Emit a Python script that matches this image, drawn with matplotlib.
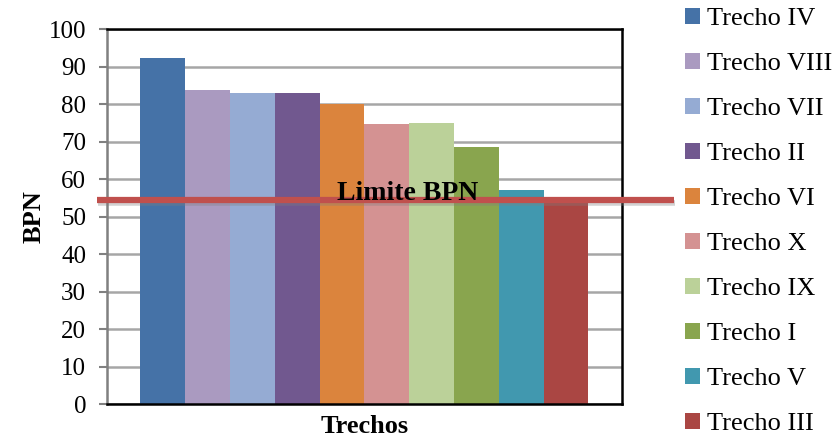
import matplotlib.pyplot as plt
from matplotlib.patches import Patch
import matplotlib.transforms as mtransforms

# data
trechos = ["Trecho IV", "Trecho VIII", "Trecho VII", "Trecho II", "Trecho VI",
           "Trecho X", "Trecho IX", "Trecho I", "Trecho V", "Trecho III"]
bpn = [92.3, 83.7, 82.9, 82.9, 80.0, 74.7, 75.0, 68.5, 57.0, 53.8]
colors = ["#4572A7", "#AA9AC0", "#95ABD3", "#71588F", "#DB843D",
          "#D49292", "#BBD199", "#89A54E", "#4198AF", "#AA4643"]
limite_bpn = 54.3

plt.rcParams["font.family"] = ["Liberation Serif", "DejaVu Serif"]

fig = plt.figure(figsize=(8.35, 4.43), dpi=100)
ax = fig.add_axes([0.128, 0.088, 0.617, 0.8465])

x = list(range(len(bpn)))
ax.bar(x, bpn, width=1.0, color=colors, zorder=2)
ax.set_xlim(-1.25, 10.25)
ax.set_ylim(0, 100)
ax.set_yticks(range(0, 101, 10))
ax.set_xticks([])
ax.grid(axis="y", color="#A6A6A6", linewidth=1.8, zorder=0)
ax.tick_params(axis="y", labelsize=18, length=6, width=1.5, color="#808080", pad=9)

for side in ["top", "right", "bottom"]:
    ax.spines[side].set_color("black")
    ax.spines[side].set_linewidth(1.8)
ax.spines["left"].set_color("#808080")
ax.spines["left"].set_linewidth(1.8)

ax.set_ylabel("BPN", fontsize=19, fontweight="bold", labelpad=2)
ax.set_xlabel("Trechos", fontsize=19, fontweight="bold", labelpad=8)

# limit line, extends beyond the plot area
trans = mtransforms.blended_transform_factory(ax.transAxes, ax.transData)
shadow = mtransforms.offset_copy(trans, fig=fig, x=1, y=-3, units="dots")
ax.plot([-0.02, 1.1], [limite_bpn, limite_bpn], transform=shadow, color="#7F7F7F",
        alpha=0.35, linewidth=4, clip_on=False, zorder=3, solid_capstyle="butt")
ax.plot([-0.02, 1.1], [limite_bpn, limite_bpn], transform=trans, color="#C0504D",
        linewidth=4.5, clip_on=False, zorder=4, solid_capstyle="butt")
ax.text(0.583, limite_bpn, "Limite BPN", transform=trans, ha="center", va="baseline",
        fontsize=20, fontweight="bold", zorder=5)

handles = [Patch(facecolor=c, edgecolor="none") for c in colors]
fig.legend(handles, trechos, loc="upper left", bbox_to_anchor=(685 / 835, 1 - 8 / 443),
           frameon=False, fontsize=19, handlelength=0.55, handleheight=0.55,
           handletextpad=0.3, labelspacing=0.86, borderpad=0, borderaxespad=0)

fig.savefig("out.png", dpi=100)
